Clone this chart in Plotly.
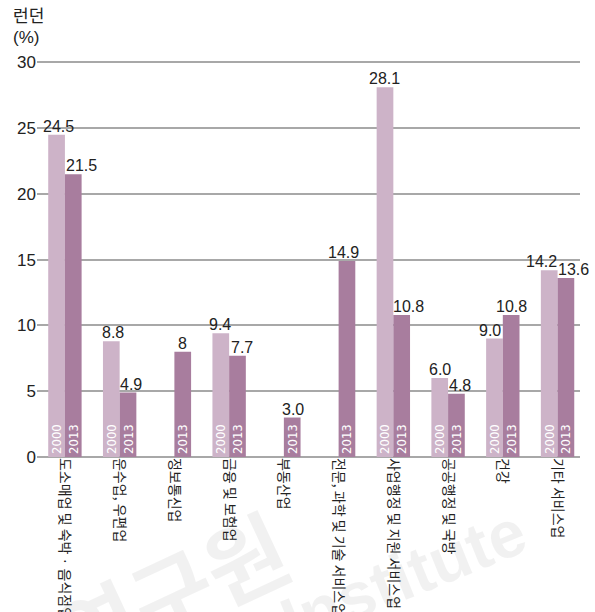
import plotly.graph_objects as go

# Industry categories (London)
categories = [
    "도소매업 및 숙박 · 음식점업",
    "운수업, 우편업",
    "정보통신업",
    "금융 및 보험업",
    "부동산업",
    "전문, 과학 및 기술 서비스업",
    "사업행정 및 지원 서비스업",
    "공공행정 및 국방",
    "건강",
    "기타 서비스업",
]

# Share by industry (%), as printed above each bar; None = no bar
labels_2000 = ["24.5", "8.8", None, "9.4", None, None, "28.1", "6.0", "9.0", "14.2"]
labels_2013 = ["21.5", "4.9", "8", "7.7", "3.0", "14.9", "10.8", "4.8", "10.8", "13.6"]

values_2000 = [float(s) if s else None for s in labels_2000]
values_2013 = [float(s) if s else None for s in labels_2013]

y_ticks = [0, 5, 10, 15, 20, 25, 30]

# horizontal nudges (px) of the value labels so neighbours don't collide
nudge_2000 = [2, 2, 0, -1, 0, 0, -1, 0, -4, -8]
nudge_2013 = [8, 3, 0, 5, 1, -3, 7, 4, 0, 8]

COLOR_2000 = "#cdb3c8"
COLOR_2013 = "#a87d9e"
GRID = "#a8a8a8"
TEXT = "#222222"
WATERMARK = "rgba(0,0,0,0.055)"

BAR_W = 0.305
idx = list(range(len(categories)))
x_2000 = [i - BAR_W / 2 for i in idx]
x_2013 = [i + BAR_W / 2 for i in idx]

narrow = "Liberation Sans Narrow, DejaVu Sans Condensed, Arial Narrow, sans-serif"
sans = "Liberation Sans, Arial, Helvetica, sans-serif"
kr = "Noto Sans CJK KR, Noto Sans, sans-serif"

fig = go.Figure()

for xs, vals, year, color in ((x_2000, values_2000, "2000", COLOR_2000),
                              (x_2013, values_2013, "2013", COLOR_2013)):
    fig.add_trace(go.Bar(
        x=xs, y=vals, width=BAR_W,
        marker=dict(color=color, line=dict(width=0)),
        text=[year if v is not None else "" for v in vals],
        textposition="inside", insidetextanchor="start", textangle=-90,
        insidetextfont=dict(family=narrow, size=13, color="white"),
        showlegend=False, hoverinfo="skip",
    ))

annotations = []
# Value labels above the bars
for xs, vals, labs, nudges in ((x_2000, values_2000, labels_2000, nudge_2000),
                               (x_2013, values_2013, labels_2013, nudge_2013)):
    for x, v, lab, dx in zip(xs, vals, labs, nudges):
        if v is None:
            continue
        annotations.append(dict(
            x=x, y=v, xref="x", yref="y", text=lab, showarrow=False,
            xanchor="center", yanchor="bottom", xshift=dx, yshift=-2,
            font=dict(family=sans, size=16, color=TEXT),
        ))

annotations += [
    dict(text="런던", xref="paper", yref="paper", x=-0.047, y=1.117,
         xanchor="left", yanchor="middle", showarrow=False,
         font=dict(family=kr, size=17, color=TEXT)),
    dict(text="(%)", xref="paper", yref="paper", x=-0.047, y=1.059,
         xanchor="left", yanchor="middle", showarrow=False,
         font=dict(family=sans, size=17, color=TEXT)),
    # faint background watermark
    dict(text="<b>연구원</b>", xref="paper", yref="paper", x=0.245, y=-0.335,
         xanchor="center", yanchor="middle",
         showarrow=False, textangle=-25,
         font=dict(family=kr, size=88, color=WATERMARK)),
    dict(text="<b>Institute</b>", xref="paper", yref="paper", x=0.675, y=-0.30,
         xanchor="center", yanchor="middle",
         showarrow=False, textangle=-22,
         font=dict(family=sans, size=66, color=WATERMARK)),
]

fig.update_layout(
    width=595, height=612,
    margin=dict(l=37, r=15, t=61, b=155),
    paper_bgcolor="white", plot_bgcolor="white",
    barmode="overlay",
    uniformtext=dict(minsize=13, mode="show"),
    xaxis=dict(
        range=[-0.51, 9.41], automargin=False,
        tickmode="array", tickvals=idx, ticktext=categories,
        tickangle=90, tickfont=dict(family=kr, size=14, color=TEXT),
        showgrid=False, zeroline=False, showline=False, ticks="",
    ),
    yaxis=dict(
        range=[0, 30.1], tickvals=y_ticks, automargin=False,
        tickfont=dict(family=sans, size=17, color=TEXT),
        showgrid=True, gridcolor=GRID, gridwidth=1.5,
        zeroline=True, zerolinecolor=GRID, zerolinewidth=1.5,
        showline=False, ticks="",
    ),
    annotations=annotations,
)

fig.write_html("out.html")
